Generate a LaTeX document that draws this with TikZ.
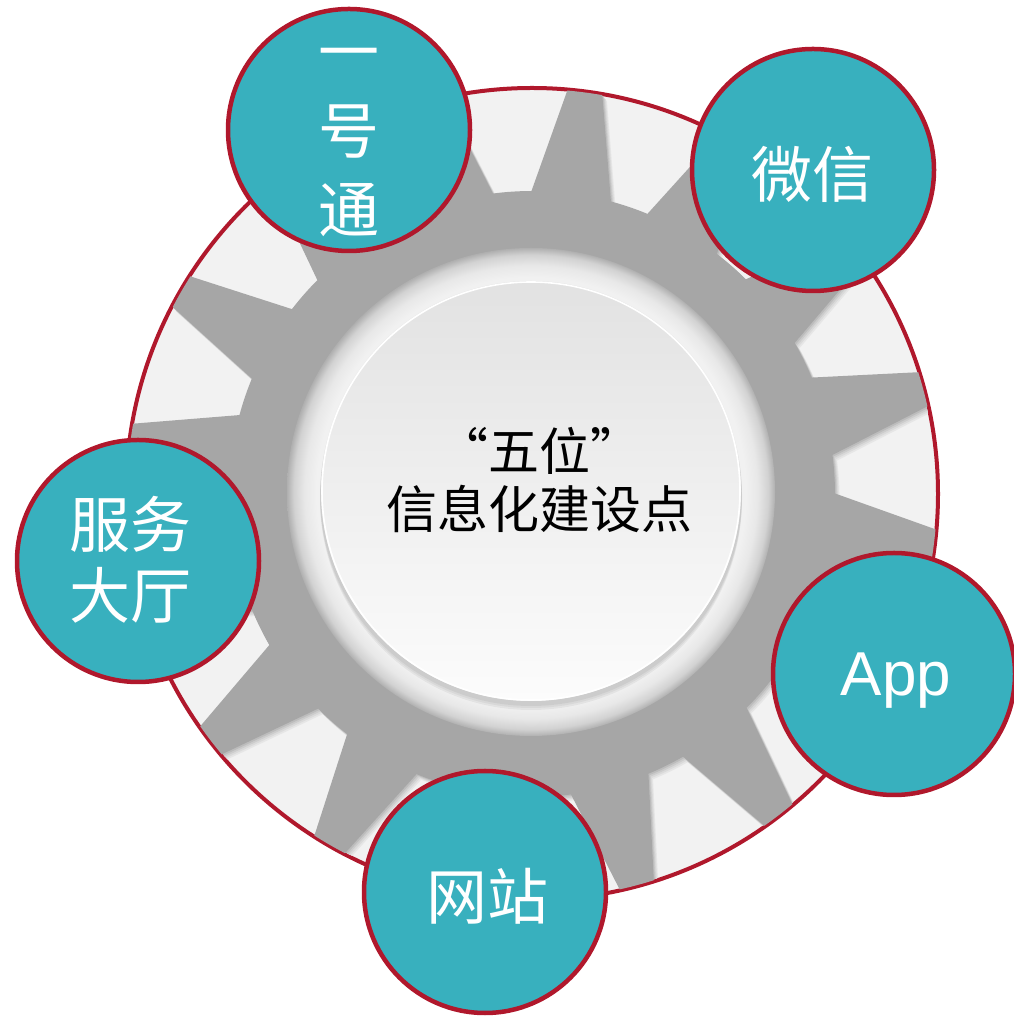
\documentclass[tikz,border=0pt]{standalone}
\usepackage{fontspec}
\newfontfamily\cjk{Noto Sans CJK SC}
\newfontfamily\appfont{Liberation Sans}
\definecolor{myteal}{RGB}{56,176,190}
\definecolor{myred}{RGB}{176,24,44}
\definecolor{gearc}{RGB}{166,166,166}
\definecolor{bgc}{RGB}{242,242,242}
\definecolor{shA}{RGB}{230,230,230}
\definecolor{shB}{RGB}{218,218,218}
\definecolor{shC}{RGB}{204,204,204}
\definecolor{shD}{RGB}{188,188,188}
\definecolor{ringA}{RGB}{241,241,241}
\definecolor{ringB}{RGB}{232,232,232}
\definecolor{ringC}{RGB}{210,210,210}
\definecolor{ringD}{RGB}{176,176,176}
\definecolor{discTop}{RGB}{226,226,226}
\definecolor{discBot}{RGB}{252,252,252}
\pgfdeclareradialshading{ringshade}{\pgfpoint{0bp}{0bp}}{color(0bp)=(ringA); color(22bp)=(ringA); color(23.2bp)=(ringB); color(24.3bp)=(ringC); color(25bp)=(ringD); color(50bp)=(ringD)}
\newcommand{\gearpath}{(7.4:303) \foreach \k in {0,...,15}{ -- ({15+22.5*\k-7.6}:303) -- ({15+22.5*\k-2.5}:405) arc[start angle={15+22.5*\k-2.5}, end angle={15+22.5*\k+2.5}, radius=405] -- ({15+22.5*\k+7.6}:303) arc[start angle={15+22.5*\k+7.6}, end angle={15+22.5*\k+14.9}, radius=303] } -- cycle}
\tikzset{
  bubble/.style={circle, draw=myred, line width=4.5pt, fill=myteal, minimum size=242pt, inner sep=0pt},
  blabel/.style={text=white, font=\cjk\fontsize{61}{77}\selectfont, align=center, inner sep=0pt},
  bigring/.style={circle, draw=myred, line width=4pt, fill=bgc, minimum size=812pt, inner sep=0pt}
}
\begin{document}
\begin{tikzpicture}[x=1pt,y=1pt]
\useasboundingbox (0,0) rectangle (1013,1017);
% big background circle
\node[bigring] (big) at (532,523) {};
% gear with soft shadow
\begin{scope}[shift={(532,523)}]
  \begin{scope}
    \clip (0,0) circle[radius=404];
    \fill[shA, shift={(4.6,-5.6)}] \gearpath;
    \fill[shB, shift={(3.5,-4.2)}] \gearpath;
    \fill[shC, shift={(2.3,-2.8)}] \gearpath;
    \fill[shD, shift={(1.2,-1.4)}] \gearpath;
  \end{scope}
  \fill[gearc] \gearpath;
\end{scope}
% bevel ring
\shade[shading=ringshade] (531,525) circle[radius=244];
% disc shadow
\fill[black, opacity=0.05] (531,518) circle[radius=211];
\fill[black, opacity=0.05] (531,520) circle[radius=211];
\fill[black, opacity=0.05] (531,522) circle[radius=211];
% inner disc
\shade[top color=discTop, bottom color=discBot] (531,526) circle[radius=210];
\draw[white, line width=1.6pt] (531,526) circle[radius=209];
\node[align=center, inner sep=0pt, font=\cjk\fontsize{51}{58}\selectfont] (ctext) at (539,537) {“五位”\\信息化建设点};
% satellites
\node[bubble] (yht) at (349,887) {};
\node[blabel, font=\cjk\fontsize{61}{79}\selectfont] (yhtT) at (349,875) {一\\号\\通};
\node[bubble] (wx) at (813,847) {};
\node[blabel] (wxT) at (812,843) {微信};
\node[bubble] (fw) at (138,456) {};
\node[blabel, font=\cjk\fontsize{61}{71}\selectfont] (fwT) at (130,457) {服务\\大厅};
\node[bubble] (app) at (894,343) {};
\node[text=white, inner sep=0pt, anchor=base, font=\appfont\fontsize{62}{70}\selectfont] (appT) at (896,321) {App};
\node[bubble] (wz) at (485,125) {};
\node[blabel] (wzT) at (487,121) {网站};
\end{tikzpicture}
\end{document}
